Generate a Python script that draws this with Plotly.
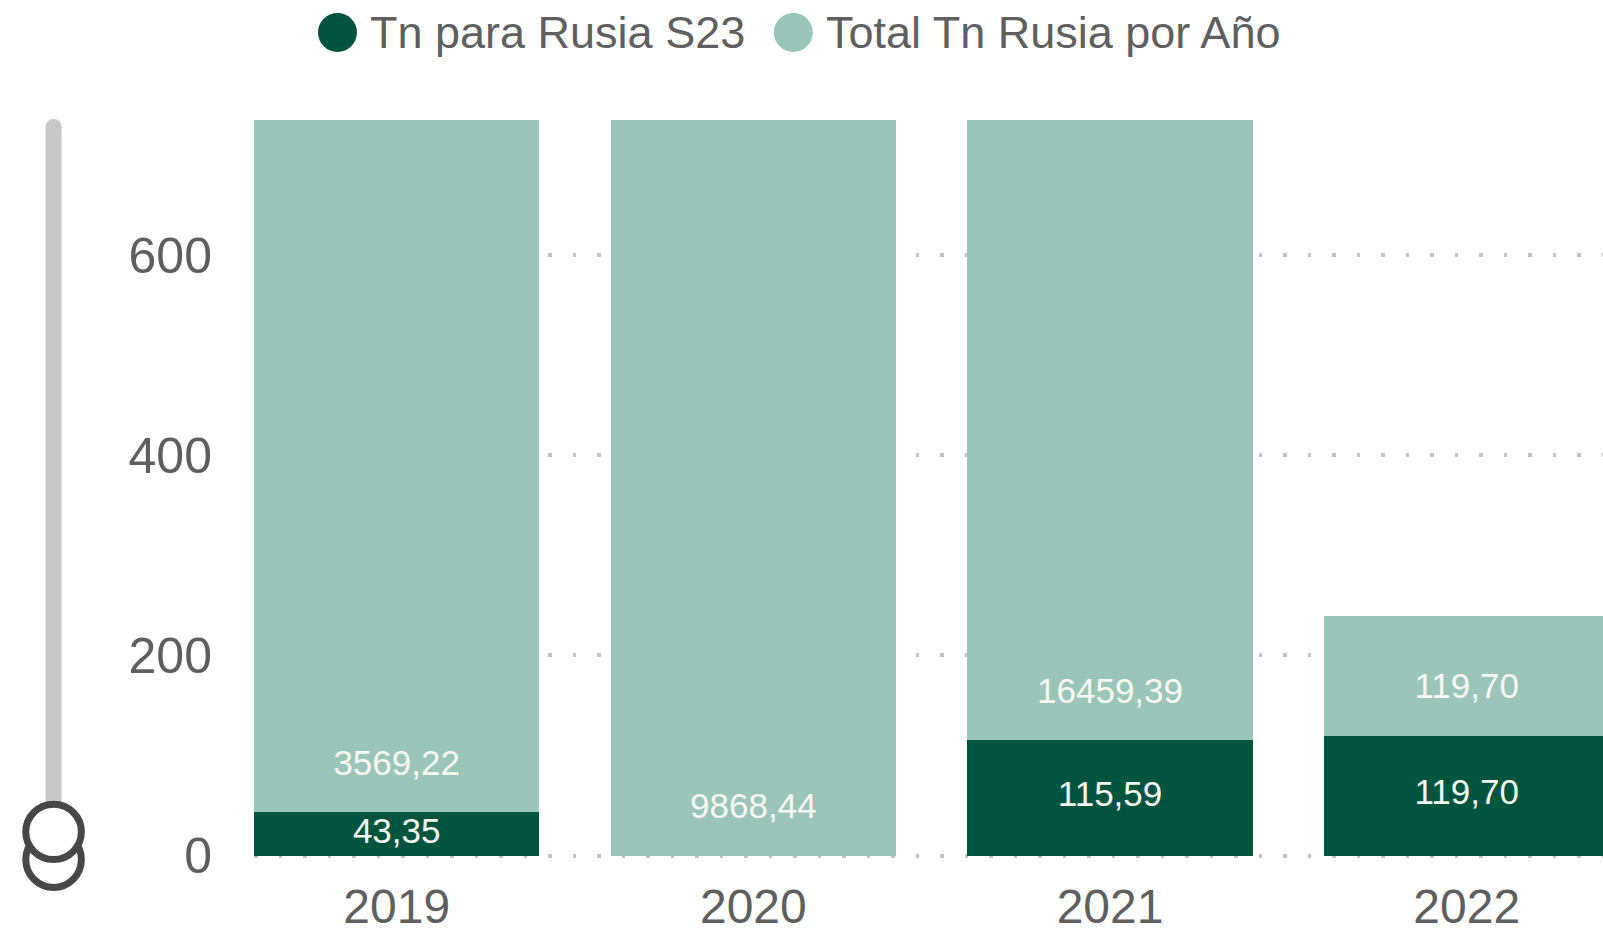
import plotly.graph_objects as go

years = ["2019", "2020", "2021", "2022"]
tn_s23 = [43.35, None, 115.59, 119.70]
total_anio = [3569.22, 9868.44, 16459.39, 119.70]
series_names = ["Tn para Rusia S23", "Total Tn Rusia por Año"]
y_ticks = [0, 200, 400, 600]

DARK = "#01553E"
LIGHT = "#9BC5B8"
TXT = "#5F5F5F"
LBL = "#F7F7F2"
NARROW = "Liberation Sans Narrow, Liberation Sans, Roboto, sans-serif"
REG = "Liberation Sans, Roboto, sans-serif"

W, H = 1603, 935
ML, MR, MT, MB = 253.5, 0, 120, 78
PW = W - ML - MR
PH = H - MT - MB


def fmt(v):
    return f"{v:.2f}".replace(".", ",")


def px(xp):
    return (xp - ML) / PW


def py(yp):
    return (H - MB - yp) / PH


fig = go.Figure()
fig.add_trace(go.Bar(x=years, y=tn_s23, name=series_names[0], marker=dict(color=DARK, line=dict(width=0)),
                     showlegend=False, hoverinfo="skip"))
fig.add_trace(go.Bar(x=years, y=total_anio, name=series_names[1], marker=dict(color=LIGHT, line=dict(width=0)),
                     showlegend=False, hoverinfo="skip"))

# data labels
lx, ly, lt = [], [], []
for yr, a, b in zip(years, tn_s23, total_anio):
    base = a or 0
    if a:
        lx.append(yr); ly.append(a / 2); lt.append(fmt(a))
    lx.append(yr); ly.append(base + min(46, b / 2)); lt.append(fmt(b))
fig.add_trace(go.Scatter(x=lx, y=ly, text=lt, mode="text", textposition="middle center",
                         textfont=dict(family=NARROW, size=35, color=LBL), showlegend=False,
                         hoverinfo="skip", cliponaxis=False))

annotations = []
# custom legend with circle markers
legend_items = [(series_names[0], DARK, 337, 368), (series_names[1], LIGHT, 793, 824)]
shapes = []
for name, col, cx, tx in legend_items:
    r = 19.5
    shapes.append(dict(type="circle", xref="paper", yref="paper", x0=px(cx - r), x1=px(cx + r),
                       y0=py(32.5 + r), y1=py(32.5 - r), fillcolor=col, line=dict(width=0), layer="above"))
    annotations.append(dict(x=px(tx), y=py(32), xref="paper", yref="paper", xanchor="left", yanchor="middle",
                            text=name, showarrow=False, font=dict(family=REG, size=45, color=TXT)))

# zoom slider on the left
SL = "#C8C8C8"
shapes.append(dict(type="rect", xref="paper", yref="paper", x0=px(45), x1=px(61), y0=py(835), y1=py(127),
                   fillcolor=SL, line=dict(width=0), layer="above"))
shapes.append(dict(type="circle", xref="paper", yref="paper", x0=px(45), x1=px(61), y0=py(135), y1=py(119),
                   fillcolor=SL, line=dict(width=0), layer="above"))
HC = "#474747"
for top, bot in [(831.5, 887.5), (804.2, 859.5)]:
    shapes.append(dict(type="circle", xref="paper", yref="paper", x0=px(25.2), x1=px(80.8), y0=py(bot), y1=py(top),
                       fillcolor="white", line=dict(color=HC, width=7), layer="above"))

fig.update_layout(
    template="none",
    width=W, height=H,
    margin=dict(l=ML, r=MR, t=MT, b=MB, pad=0, autoexpand=False),
    barmode="stack", bargap=0.2,
    plot_bgcolor="white", paper_bgcolor="white",
    showlegend=False,
    annotations=annotations, shapes=shapes,
    xaxis=dict(type="category", range=[-0.4, 3.382], showgrid=False, showline=False, zeroline=False,
               automargin=False,
               ticks="outside", ticklen=7, tickcolor="rgba(0,0,0,0)",
               tickfont=dict(family=NARROW, size=48, color=TXT)),
    yaxis=dict(range=[-1.5, 735], tickvals=y_ticks, ticktext=[str(v) for v in y_ticks],
               automargin=False,
               showgrid=True, gridcolor="#C4C4C4", gridwidth=3.5, griddash="3.5px,21px",
               zeroline=False, showline=False, ticks="outside", ticklen=31, tickcolor="rgba(0,0,0,0)",
               tickfont=dict(family=REG, size=50, color=TXT)),
)

fig.write_html("out.html", config={"displayModeBar": False},
               post_script="document.body.style.margin='0';document.body.style.overflow='hidden';")
